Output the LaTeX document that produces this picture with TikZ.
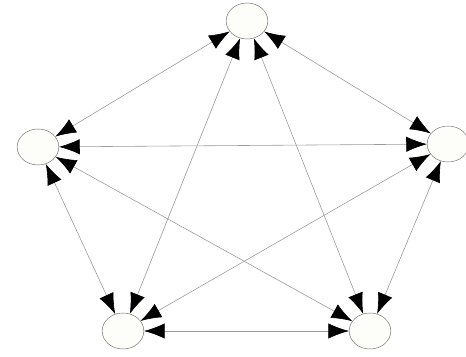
\documentclass[tikz,border=0pt]{standalone}
\usepackage{tikz}
\usepackage{xcolor}
\usetikzlibrary{arrows.meta,shapes.geometric}
\definecolor{Edge}{HTML}{9A9A9A}
\definecolor{Rim}{HTML}{6E6E6E}
\definecolor{Shell}{HTML}{FDFDF9}

\begin{document}
\begin{tikzpicture}[
  x=0.03cm, y=-0.03cm,
  vertex/.style={ellipse,draw=Rim,fill=Shell,thin,minimum width=1.25cm,minimum height=1.08cm,inner sep=0pt},
  arrow/.style={{Latex[length=6.2mm,width=4.6mm,black]}-{Latex[length=6.2mm,width=4.6mm,black]},draw=Edge,line width=0.5pt}
]
\useasboundingbox (0,0) rectangle (466,357);
\node[vertex] (top) at (247,21) {};
\node[vertex] (left) at (38,147) {};
\node[vertex] (right) at (448,144) {};
\node[vertex] (bl) at (123,331) {};
\node[vertex] (br) at (370,331) {};
\draw[arrow] (top) -- (left);
\draw[arrow] (top) -- (right);
\draw[arrow] (top) -- (bl);
\draw[arrow] (top) -- (br);
\draw[arrow] (left) -- (right);
\draw[arrow] (left) -- (bl);
\draw[arrow] (left) -- (br);
\draw[arrow] (right) -- (bl);
\draw[arrow] (right) -- (br);
\draw[arrow] (bl) -- (br);
\end{tikzpicture}
\end{document}
